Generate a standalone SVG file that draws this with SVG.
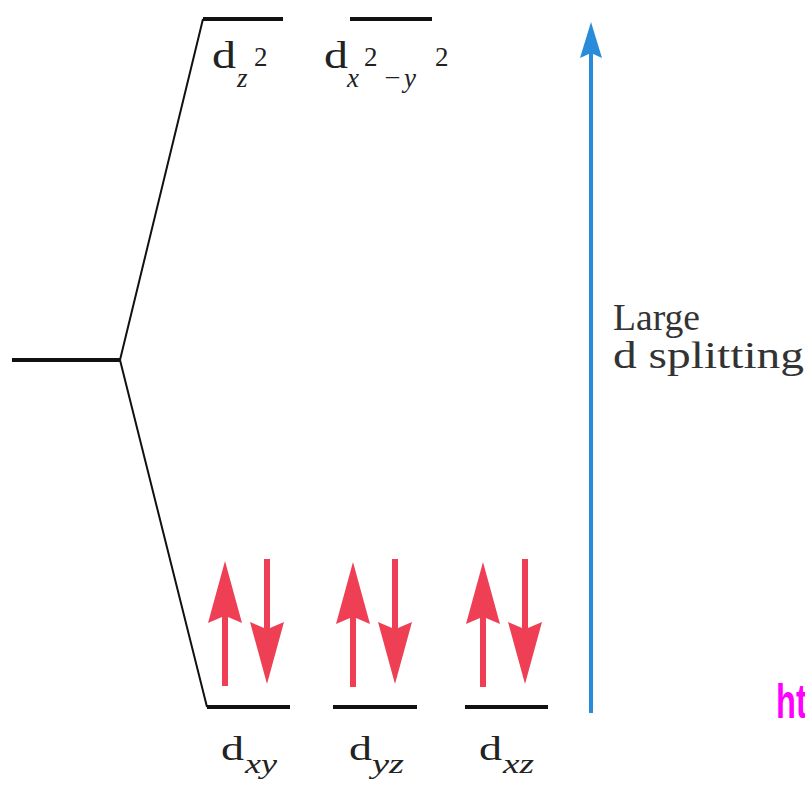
<svg xmlns="http://www.w3.org/2000/svg" xmlns:xlink="http://www.w3.org/1999/xlink" width="805" height="785" viewBox="0 0 805 785">
<style>
.lvl{stroke:#111;stroke-width:4;fill:none}
.con{stroke:#111;stroke-width:2;fill:none}
.d{font-family:"Liberation Serif",serif;fill:#222}
.sub{font-family:"Liberation Serif",serif;font-style:italic;fill:#222}
.sup{font-family:"Liberation Serif",serif;fill:#222}
.lab{font-family:"Liberation Serif",serif;font-size:38px;fill:#333}
.spin{fill:#ef3f55}
</style>
<defs>
<path id="spin" d="M0,0 L17,62 L3,56 L3,125 L-3,125 L-3,56 L-17,62 Z"/>
</defs>
<rect width="805" height="785" fill="#fff"/>
<g id="connectors">
<polyline class="con" points="203,19 120,360 207,707"/>
</g>
<g id="d-degenerate"><line class="lvl" x1="12" y1="360" x2="121" y2="360"/></g>
<g id="dz2">
<line class="lvl" x1="203" y1="19" x2="283" y2="19"/>
<text class="d" x="212" y="68" font-size="37" textLength="24" lengthAdjust="spacingAndGlyphs">d</text>
<text class="sub" x="237" y="87" font-size="27">z</text>
<text class="sup" x="254" y="66" font-size="27">2</text>
</g>
<g id="dx2y2">
<line class="lvl" x1="350" y1="19" x2="432" y2="19"/>
<text class="d" x="324" y="68" font-size="37" textLength="24" lengthAdjust="spacingAndGlyphs">d</text>
<text class="sub" x="347" y="87" font-size="27">x</text>
<text class="sup" x="364" y="66" font-size="27">2</text>
<text class="sup" x="386" y="84" font-size="26">–</text>
<text class="sub" x="404" y="87" font-size="27">y</text>
<text class="sup" x="435" y="66" font-size="27">2</text>
</g>
<g id="dxy">
<line class="lvl" x1="207" y1="707" x2="290" y2="707"/>
<use class="spin" xlink:href="#spin" href="#spin" transform="translate(225,561)"/>
<use class="spin" xlink:href="#spin" href="#spin" transform="translate(267,684) scale(1,-1)"/>
<text class="d" x="221" y="760" font-size="34" textLength="23" lengthAdjust="spacingAndGlyphs">d</text>
<text class="sub" x="245" y="773" font-size="27" textLength="32" lengthAdjust="spacingAndGlyphs">xy</text>
</g>
<g id="dyz">
<line class="lvl" x1="333" y1="707" x2="417" y2="707"/>
<use class="spin" xlink:href="#spin" href="#spin" transform="translate(353,562)"/>
<use class="spin" xlink:href="#spin" href="#spin" transform="translate(395,684) scale(1,-1)"/>
<text class="d" x="349" y="760" font-size="34" textLength="23" lengthAdjust="spacingAndGlyphs">d</text>
<text class="sub" x="372" y="773" font-size="27" textLength="32" lengthAdjust="spacingAndGlyphs">yz</text>
</g>
<g id="dxz">
<line class="lvl" x1="465" y1="707" x2="548" y2="707"/>
<use class="spin" xlink:href="#spin" href="#spin" transform="translate(483,562)"/>
<use class="spin" xlink:href="#spin" href="#spin" transform="translate(525,684) scale(1,-1)"/>
<text class="d" x="479" y="760" font-size="34" textLength="23" lengthAdjust="spacingAndGlyphs">d</text>
<text class="sub" x="503" y="773" font-size="27" textLength="31" lengthAdjust="spacingAndGlyphs">xz</text>
</g>
<g id="splitting">
<line x1="591" y1="713" x2="591" y2="50" stroke="#2a8bd8" stroke-width="4"/>
<path d="M591,22 L602,58 L591,53 L580,58 Z" fill="#2a8bd8"/>
<text class="lab" x="613" y="330" textLength="87" lengthAdjust="spacingAndGlyphs">Large</text>
<text class="lab" x="613" y="368" textLength="191" lengthAdjust="spacingAndGlyphs">d splitting</text>
</g>
<text x="0" y="0" transform="translate(776,718) scale(0.68,1)" font-family="Liberation Sans,Arial,sans-serif" font-weight="bold" font-size="48" fill="#ff00ff">ht</text>
</svg>
